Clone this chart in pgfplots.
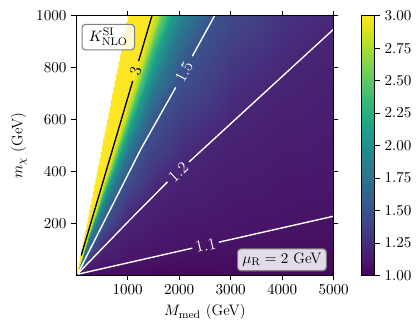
\documentclass[border=0pt]{standalone}
\usepackage{pgfplots}
\pgfplotsset{compat=1.18}
\definecolor{vyellow}{RGB}{253,231,37}
\definecolor{boxedge}{RGB}{128,128,128}
\begin{document}
\begin{tikzpicture}[font=\fontsize{11}{13}\selectfont]
\begin{axis}[
  name=ax,
  scale only axis, width=186.8pt, height=188.4pt,
  xmin=0, xmax=5000, ymin=0, ymax=1000,
  xtick={1000,2000,3000,4000,5000},
  ytick={200,400,600,800,1000},
  scaled ticks=false,
  /pgf/number format/1000 sep={},
  tick align=outside, major tick length=3.5pt,
  tick style={black, line width=0.6pt},
  axis line style={line width=0.8pt},
  xlabel={$M_{\mathrm{med}}$ (GeV)},
  ylabel={$m_\chi$ (GeV)},
  colormap/viridis,
  point meta min=1, point meta max=3,
  colorbar,
  colorbar style={
    at={(parent axis.north east)}, anchor=north west, xshift=11.5pt,
    scale only axis, width=9.9pt,
    ytick={1,1.25,1.5,1.75,2,2.25,2.5,2.75,3},
    yticklabel style={/pgf/number format/.cd, fixed, fixed zerofill, precision=2},
    tick align=outside, major tick length=3.5pt, ytick pos=right,
    tick style={black, line width=0.6pt},
    axis line style={line width=0.8pt},
  },
  axis on top,
  clip bounding box=upper bound,
]
% region with data where K exceeds the colour range
\addplot[draw=none, fill=vyellow, const plot] coordinates {
(0,0) (25,25) (50,50) (75,75) (100,100) (125,125) (150,150) (175,175) (200,200)
(225,225) (250,250) (275,275) (300,300) (325,325) (350,350) (375,375) (400,400)
(425,425) (450,450) (475,475) (500,500) (525,525) (550,550) (575,575) (600,600)
(625,625) (650,650) (675,675) (700,700) (725,725) (750,750) (775,775) (800,800)
(825,825) (850,850) (875,875) (900,900) (925,925) (950,950) (975,975) (1000,1000)
(5000,1000)} \closedcycle;
% K factor on a mesh following its level curves
\addplot[surf, shader=interp, mesh/rows=9, mesh/cols=9, mesh/ordering=y varies,
  point meta=explicit] table[x=x, y=y, meta=K] {
x y K
0 0 1.04
0 0 1.1
0 0 1.2
0 0 1.5
0 0 1.8
0 0 2.1
0 0 2.5
0 0 2.75
0 0 3
250 0 1.04
250 14 1.1
250 51 1.2
250 87 1.5
250 135 1.8
250 151 2.1
250 162 2.5
250 165 2.75
250 178 3
500 0 1.04
500 25 1.1
500 103 1.2
500 186 1.5
500 250 1.8
500 282 2.1
500 308 2.5
500 320 2.75
500 346 3
1000 0 1.04
1000 48 1.1
1000 205 1.2
1000 384 1.5
1000 480 1.8
1000 544 2.1
1000 601 2.5
1000 629 2.75
1000 682 3
1500 0 1.04
1500 70 1.1
1500 305 1.2
1500 574 1.5
1500 710 1.8
1500 806 2.1
1500 894 2.5
1500 939 2.75
1500 1018 3
2000 0 1.04
2000 93 1.1
2000 401 1.2
2000 755 1.5
2000 940 1.8
2000 1068 2.1
2000 1187 2.5
2000 1248 2.75
2000 1354 3
3000 0 1.04
3000 138 1.1
3000 583 1.2
3000 1117 1.5
3000 1400 1.8
3000 1592 2.1
3000 1773 2.5
3000 1867 2.75
3000 2026 3
4000 0 1.04
4000 183 1.1
4000 765 1.2
4000 1479 1.5
4000 1860 1.8
4000 2116 2.1
4000 2359 2.5
4000 2486 2.75
4000 2698 3
5000 0 1.04
5000 228 1.1
5000 948 1.2
5000 1841 1.5
5000 2320 1.8
5000 2640 2.1
5000 2945 2.5
5000 3105 2.75
5000 3370 3
};
% contour lines
\addplot[white, line width=1pt] coordinates {(40,5) (2257,105)};
\addplot[white, line width=1pt] coordinates {(2773,128) (5000,228)};
\addplot[white, line width=1pt] coordinates {(40,8) (1000,205) (1774,360)};
\addplot[white, line width=1pt] coordinates {(2193,437) (5000,948)};
\addplot[white, line width=1pt] coordinates {(40,10) (1259,487) (1935,724)};
\addplot[white, line width=1pt] coordinates {(2257,844) (2700,1004)};
\addplot[black, line width=1pt] coordinates {(100,77) (703,482) (1100,749)};
\addplot[black, line width=1pt] coordinates {(1213,825) (1500,1018)};
\node[white, rotate=12.8, font=\fontsize{12}{14}\selectfont] at (axis cs:2515,116.5) {1.1};
\node[white, rotate=42.9, font=\fontsize{12}{14}\selectfont] at (axis cs:1983,398.5) {1.2};
\node[white, rotate=62.1, font=\fontsize{12}{14}\selectfont] at (axis cs:2096,784) {1.5};
\node[black, rotate=73.8, font=\fontsize{12}{14}\selectfont] at (axis cs:1157,787) {3};
\node[anchor=north west, draw=boxedge, fill=white, fill opacity=0.8, text opacity=1,
  rounded corners=2.5pt, line width=0.8pt, inner xsep=5pt, inner ysep=3pt]
  at (rel axis cs:0.021,0.969) {$K^{\mathrm{SI}}_{\mathrm{NLO}}$};
\node[anchor=south east, draw=boxedge, fill=white, fill opacity=0.85, text opacity=1,
  rounded corners=2.5pt, line width=0.8pt, inner xsep=3.5pt, inner ysep=3pt]
  at (rel axis cs:0.974,0.016) {$\mu_{\mathrm{R}} = 2$ GeV};
\end{axis}
\path (ax.south west) ++(-55.2pt,-42.8pt) rectangle ++(299.5pt,242.6pt);
\end{tikzpicture}
\end{document}
